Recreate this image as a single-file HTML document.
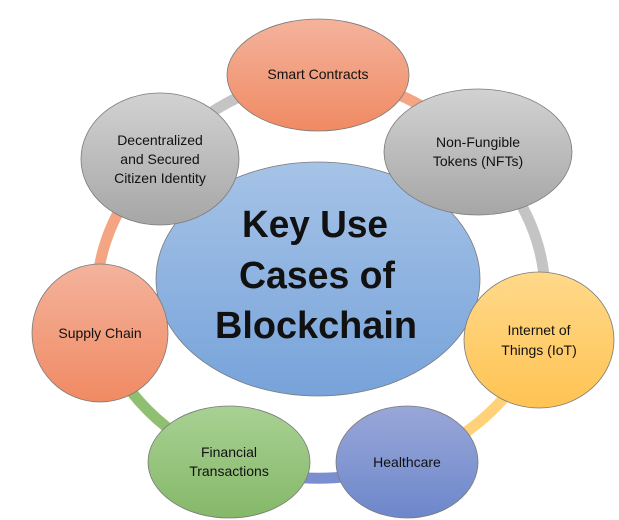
<!DOCTYPE html>
<html><head><meta charset="utf-8"><style>
html,body{margin:0;padding:0;background:#fff;width:619px;height:520px;overflow:hidden}
svg{display:block}
text{font-family:"Liberation Sans",sans-serif;fill:#111}
</style></head><body>
<svg width="619" height="520" viewBox="0 0 619 520" xmlns="http://www.w3.org/2000/svg">
<defs>
<linearGradient id="o" x1="0" y1="0" x2="0" y2="1"><stop offset="0" stop-color="#f4b39c"/><stop offset="1" stop-color="#f08a63"/></linearGradient>
<linearGradient id="g" x1="0" y1="0" x2="0" y2="1"><stop offset="0" stop-color="#d2d2d2"/><stop offset="1" stop-color="#a6a6a6"/></linearGradient>
<linearGradient id="y" x1="0" y1="0" x2="0" y2="1"><stop offset="0" stop-color="#ffd98a"/><stop offset="1" stop-color="#ffc353"/></linearGradient>
<linearGradient id="b" x1="0" y1="0" x2="0" y2="1"><stop offset="0" stop-color="#99a7d8"/><stop offset="1" stop-color="#6d87cb"/></linearGradient>
<linearGradient id="gr" x1="0" y1="0" x2="0" y2="1"><stop offset="0" stop-color="#a8d193"/><stop offset="1" stop-color="#85b869"/></linearGradient>
<linearGradient id="c" x1="0" y1="0" x2="0" y2="1"><stop offset="0" stop-color="#a6c3e7"/><stop offset="1" stop-color="#77a3da"/></linearGradient>
</defs>
<g fill="none" stroke-width="11">
<path d="M318 75 A225 200 0 0 1 478 152" stroke="#f4a584"/>
<path d="M478 152 A225 200 0 0 1 539 340" stroke="#c4c4c4"/>
<path d="M539 340 A225 200 0 0 1 407 462" stroke="#ffd27a"/>
<path d="M407 462 A225 200 0 0 1 229 462" stroke="#7b8fd0"/>
<path d="M229 462 A225 200 0 0 1 100 333" stroke="#8fbf70"/>
<path d="M100 333 A225 200 0 0 1 160 159" stroke="#f4a584"/>
<path d="M160 159 A225 200 0 0 1 318 75" stroke="#c4c4c4"/>
</g>
<g stroke="#7a7a7a" stroke-width="0.8">
<ellipse cx="318" cy="279" rx="162" ry="117" fill="url(#c)"/>
<ellipse cx="318" cy="75" rx="91" ry="56" fill="url(#o)"/>
<ellipse cx="478" cy="152" rx="94" ry="63" fill="url(#g)"/>
<ellipse cx="539" cy="340" rx="75" ry="68" fill="url(#y)"/>
<ellipse cx="407" cy="462" rx="71" ry="56" fill="url(#b)"/>
<ellipse cx="229" cy="462" rx="81" ry="56" fill="url(#gr)"/>
<ellipse cx="100" cy="333" rx="68" ry="69" fill="url(#o)"/>
<ellipse cx="160" cy="159" rx="79" ry="66" fill="url(#g)"/>
</g>
<g font-size="14" text-anchor="middle">
<text x="318" y="79">Smart Contracts</text>
<text x="478" y="147">Non-Fungible</text>
<text x="478" y="166">Tokens (NFTs)</text>
<text x="539" y="335">Internet of</text>
<text x="539" y="355">Things (IoT)</text>
<text x="407" y="467">Healthcare</text>
<text x="229" y="457">Financial</text>
<text x="229" y="476">Transactions</text>
<text x="100" y="338">Supply Chain</text>
<text x="160" y="145">Decentralized</text>
<text x="160" y="164">and Secured</text>
<text x="160" y="183">Citizen Identity</text>
</g>
<g font-size="38" font-weight="bold" text-anchor="middle">
<text x="315" y="237" textLength="146" lengthAdjust="spacingAndGlyphs">Key Use</text>
<text x="317" y="288" textLength="156" lengthAdjust="spacingAndGlyphs">Cases of</text>
<text x="316" y="338" textLength="202" lengthAdjust="spacingAndGlyphs">Blockchain</text>
</g>
</svg>
</body></html>
